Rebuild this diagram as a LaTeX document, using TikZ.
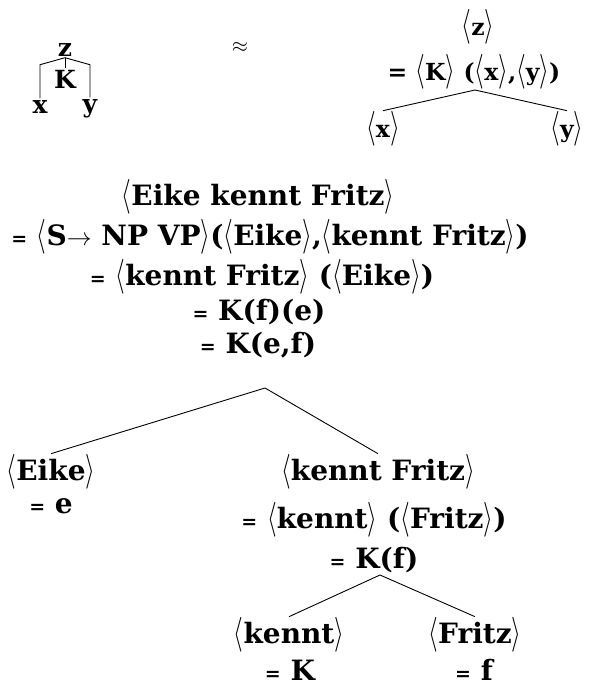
\documentclass[tikz,border=0pt]{standalone}
\usepackage{amsmath}
\usepackage{fontspec}
\setmainfont{DejaVu Serif}
\usetikzlibrary{positioning}
% denotation brackets (stretched) and the small equals sign
\newcommand{\dn}[1]{\scalebox{1}[1.4]{$\langle$}#1\scalebox{1}[1.4]{$\rangle$}}
\newcommand{\eq}{{\fontsize{19}{20}\selectfont=}}

\begin{document}
\begin{tikzpicture}[x=1pt, y=-1pt,
  term/.style={font=\fontsize{28}{32}\selectfont\bfseries, anchor=base, inner sep=0pt},
  sym/.style={font=\fontsize{23.5}{28}\selectfont\bfseries, anchor=base, inner sep=0pt},
  mini/.style={font=\fontsize{25}{30}\selectfont\bfseries, anchor=base, inner sep=1.5pt},
  branch/.style={line width=0.9pt},
]
\useasboundingbox (0,0) rectangle (594,686);

% small combinator tree
\node[mini] (tz) at (65,56)  {z};
\node[mini] (tk) at (65,88)  {K};
\node[mini] (tx) at (40,113) {x};
\node[mini] (ty) at (90,112) {y};
\coordinate (tzk) at ([yshift=-7pt]tz.south);
\draw[branch] (tz.south) -- (tk.north);
\draw[branch] (tz.south) -- (tzk -| tx.north) -- (tx.north);
\draw[branch] (tz.south) -- (tzk -| ty.north) -- (ty.north);

\node[font=\fontsize{20}{20}\selectfont] (apx) at (240,47) {$\approx$};

% its meaning
\node[sym] (rz) at (478,35)  {\dn{z}};
\node[sym] (rk) at (474,80)  {= \dn{K} (\dn{x},\dn{y})};
\node[sym] (rx) at (383,137) {\dn{x}};
\node[sym] (ry) at (567,137) {\dn{y}};
\coordinate (split0) at ([xshift=1pt,yshift=-10pt]rk.base);
\draw[branch] (rx.north) -- (split0) -- (ry.north);

% whole sentence
\node[term] (s1) at (258,205) {\dn{Eike kennt Fritz}};
\node[term] (s2) at (270,245) {\eq{} \dn{S$\rightarrow$ NP VP}(\dn{Eike},\dn{kennt Fritz})};
\node[term] (s3) at (262,285) {\eq{} \dn{kennt Fritz} (\dn{Eike})};
\node[term] (s4) at (259,320) {\eq{} K(f)(e)};
\node[term] (s5) at (258,353) {\eq{} K(e,f)};
\coordinate (split1) at ([xshift=7pt,yshift=-35pt]s5.base);

% subject
\node[term] (np1) at (51,480) {\dn{Eike}};
\node[term] (np2) at (51,513) {\eq{} e};

% verb phrase
\node[term] (vp1) at (378,480) {\dn{kennt Fritz}};
\node[term] (vp2) at (374,528) {\eq{} \dn{kennt} (\dn{Fritz})};
\node[term] (vp3) at (374,568) {\eq{} K(f)};
\coordinate (split2) at ([xshift=6pt,yshift=-7pt]vp3.base);
\draw[branch] (np1.north) -- (split1) -- (vp1.north);

\node[term] (v1) at (289,643) {\dn{kennt}};
\node[term] (v2) at (290,680) {\eq{} K};
\node[term] (o1) at (475,643) {\dn{Fritz}};
\node[term] (o2) at (474,680) {\eq{} f};
\draw[branch] (v1.north) -- (split2) -- (o1.north);
\end{tikzpicture}
\end{document}
